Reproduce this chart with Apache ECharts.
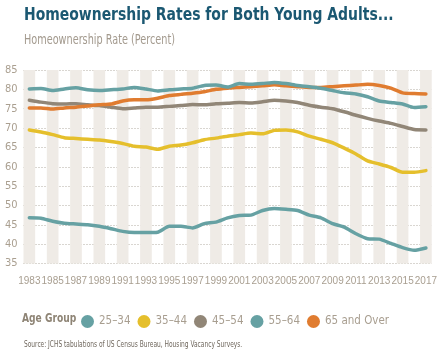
<!DOCTYPE html>
<html><head><meta charset="utf-8">
<script src="https://cdn.jsdelivr.net/npm/echarts@6/dist/echarts.min.js"></script>
<style>html,body{margin:0;padding:0;background:#fff}#c{width:440px;height:355px}</style>
</head><body><div id="c"></div>
<script>
var years = [];
for (var y = 1983; y <= 2017; y++) years.push(String(y));
var ages25_34 = [46.8,46.7,45.9,45.4,45.2,45.0,44.6,44.0,43.3,43.0, 43.0,43.1,44.6,44.6,44.2,45.3,45.7,46.8,47.4,47.5, 48.7,49.2,49.0,48.7,47.5,46.8,45.3,44.4,42.7,41.4, 41.3,40.2,39.1,38.4,39.0];
var ages35_44 = [69.5,69.0,68.3,67.5,67.3,67.1,66.9,66.5,66.0,65.3, 65.1,64.5,65.3,65.6,66.2,67.0,67.4,67.9,68.3,68.7, 68.5,69.4,69.5,69.0,67.9,67.1,66.2,64.8,63.3,61.5, 60.7,59.8,58.6,58.6,59.0];
var ages45_54 = [77.2,76.7,76.3,76.2,76.3,76.0,75.8,75.4,75.0,75.2, 75.4,75.4,75.6,75.8,76.1,76.0,76.3,76.4,76.6,76.5, 76.8,77.2,77.0,76.6,75.9,75.4,75.0,74.2,73.3,72.5, 71.8,71.2,70.4,69.6,69.5];
var ages55_64 = [80.1,80.2,79.7,80.1,80.4,79.9,79.7,79.9,80.1,80.5, 80.1,79.6,79.9,80.1,80.3,81.0,81.1,80.6,81.5,81.3, 81.5,81.8,81.5,81.0,80.7,80.3,79.7,79.1,78.8,78.1, 77.0,76.6,76.2,75.3,75.5];
var ages65plus = [75.2,75.2,74.9,75.2,75.4,75.7,76.0,76.2,77.0,77.3, 77.3,77.7,78.4,78.7,79.0,79.4,80.0,80.3,80.5,80.7, 80.9,81.2,80.9,80.7,80.5,80.5,80.7,80.9,81.1,81.3, 81.0,80.3,79.1,78.9,78.8];
var seriesNames = ['25\u201334','35\u201344','45\u201354','55\u201364','65 and Over'];
var colors = ['#66a1a3','#e5bf2c','#918677','#66a1a3','#e07c30'];

var FONT = "'DejaVu Sans Condensed','DejaVu Sans',sans-serif";
var NUMFONT = "'Liberation Sans',sans-serif";
var chart = echarts.init(document.getElementById('c'), null, {renderer:'canvas'});
function mk(i, data, z){
  return {name: seriesNames[i], type:'line', data:data, showSymbol:false, symbol:'none',
    smooth:0.2, z:z, lineStyle:{color:colors[i], width:3.5, cap:'round', join:'round'},
    itemStyle:{color:colors[i]}};
}
function txt(x, y, s, font, fill, sx){
  return {type:'text', x:x, y:y, scaleX:sx, silent:true,
    style:{text:s, font:font, fill:fill, verticalAlign:'top', textVerticalAlign:'top'}};
}
chart.setOption({
  animation:false,
  textStyle:{fontFamily:FONT},
  graphic:[
    txt(24, 7, 'Homeownership Rates for Both Young Adults...', 'bold 17px '+FONT, '#1b5872', 0.912),
    txt(24, 33, 'Homeownership Rate (Percent)', '14px '+FONT, '#a39a8e', 0.77),
    txt(22, 312, 'Age Group', 'bold 13px '+FONT, '#8e8475', 0.78),
    txt(24, 341, 'Source: JCHS tabulations of US Census Bureau, Housing Vacancy Surveys.', '8px '+FONT, '#6f675d', 0.82)
  ],
  legend:{data:seriesNames, left:76, top:310, icon:'circle', itemWidth:13, itemHeight:13, itemGap:7,
    textStyle:{fontFamily:FONT, fontSize:11.5, color:'#a89e90'}},
  grid:{left:23.5, right:7, top:70, bottom:91.5, containLabel:false},
  xAxis:{type:'category', data:years, boundaryGap:true,
    axisLine:{show:false}, axisTick:{show:false},
    axisLabel:{interval:1, showMinLabel:true, showMaxLabel:true,
      color:'#a89e90', fontSize:10, fontFamily:NUMFONT, margin:13},
    splitArea:{show:true, interval:0, areaStyle:{color:['#efebe6','rgba(255,255,255,0)']}},
    splitLine:{show:false}},
  yAxis:{type:'value', min:35, max:85, interval:5,
    axisLine:{show:false}, axisTick:{show:false},
    axisLabel:{color:'#aa9f90', fontSize:11, fontFamily:FONT, margin:6},
    splitLine:{show:true, lineStyle:{color:'#b3aca2', type:[1,2], width:1}}},
  series:[mk(0,ages25_34,2), mk(1,ages35_44,2), mk(2,ages45_54,3), mk(4,ages65plus,4), mk(3,ages55_64,5)]
});
</script></body></html>
